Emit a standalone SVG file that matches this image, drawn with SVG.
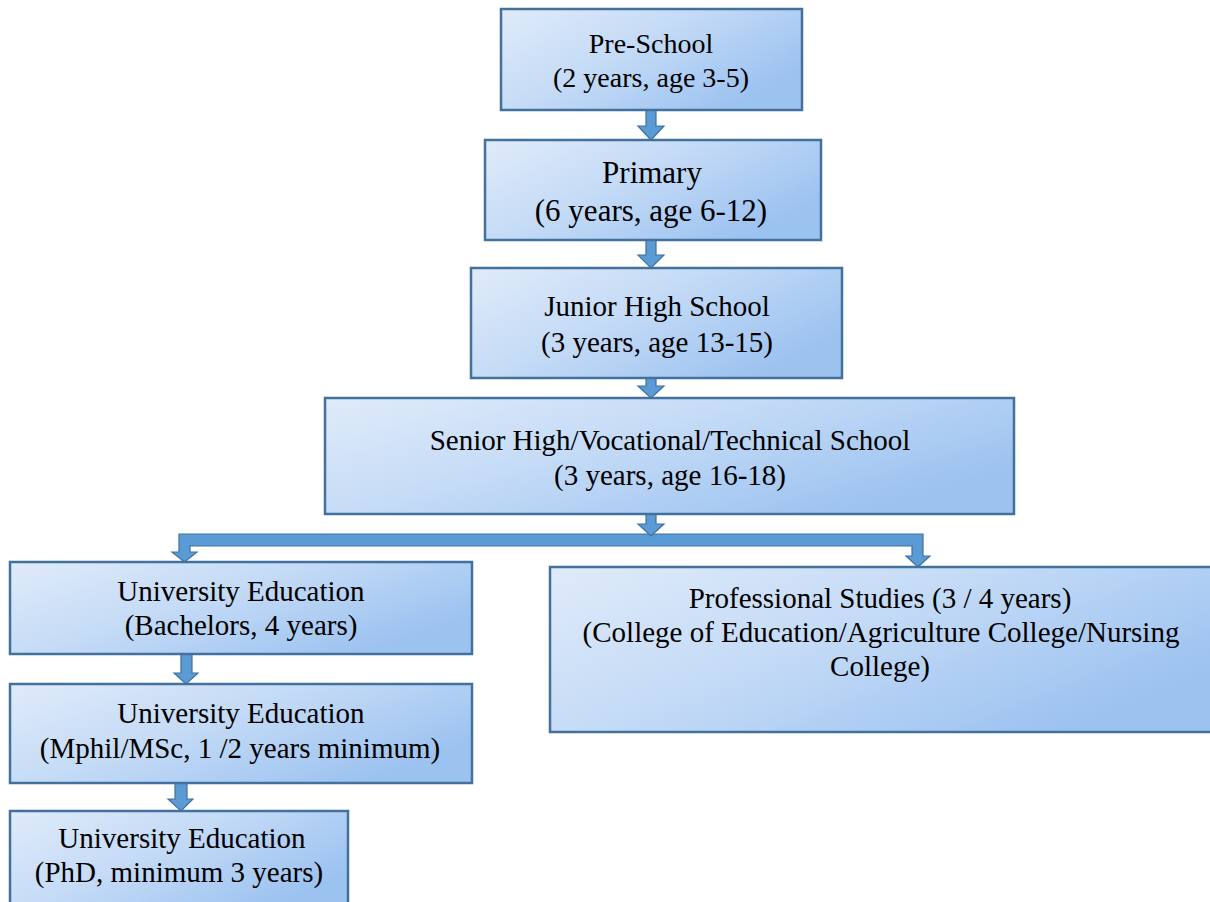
<svg xmlns="http://www.w3.org/2000/svg" width="1210" height="902" viewBox="0 0 1210 902">
<defs>
<linearGradient id="g" x1="0" y1="0" x2="1" y2="0.6">
<stop offset="0" stop-color="#e0ebfa"/>
<stop offset="0.5" stop-color="#c3daf6"/>
<stop offset="1" stop-color="#9cc2f0"/>
</linearGradient>
<style>
.box{fill:url(#g);stroke:#41719c;stroke-width:2.5}
.t{font-family:"Liberation Serif","Times New Roman",serif;font-size:29px;fill:#000;text-anchor:middle}
.arr{fill:#5b9bd5;stroke:#41719c;stroke-width:1.2;stroke-linejoin:miter}
</style>
</defs>
<rect width="1210" height="902" fill="#fff"/>
<g id="connectors">
<path class="arr" d="M646,110 H656 V126 H664 L651,140 L638,126 H646 Z"/>
<path class="arr" d="M646,240 H656 V255 H664 L651,268 L638,255 H646 Z"/>
<path class="arr" d="M646,378 H656 V386 H664 L651,398 L638,386 H646 Z"/>
<path class="arr" d="M179,534 H923 V556 H930 L918,567 L906,556 H912 V546 H190 V552 H197 L184.5,562 L172,552 H179 Z"/>
<path class="arr" d="M646,514 H656 V524 H664 L651,536 L638,524 H646 Z"/>
<path class="arr" d="M181,654 H192 V673 H198 L186,684 L174,673 H181 Z"/>
<path class="arr" d="M175,783 H187 V799 H193 L181,811 L168,799 H175 Z"/>
</g>
<g id="preschool">
<rect class="box" x="501" y="9" width="301" height="101"/>
<text class="t" x="651" y="53" style="font-size:28px">Pre-School</text>
<text class="t" x="651" y="87" style="font-size:28px">(2 years, age 3-5)</text>
</g>
<g id="primary">
<rect class="box" x="485" y="140" width="336" height="100"/>
<text class="t" x="652" y="183" style="font-size:31px">Primary</text>
<text class="t" x="651" y="221" style="font-size:31px">(6 years, age 6-12)</text>
</g>
<g id="jhs">
<rect class="box" x="471" y="268" width="371" height="110"/>
<text class="t" x="657" y="316">Junior High School</text>
<text class="t" x="657" y="352">(3 years, age 13-15)</text>
</g>
<g id="shs">
<rect class="box" x="325" y="398" width="689" height="116"/>
<text class="t" x="670" y="450">Senior High/Vocational/Technical School</text>
<text class="t" x="670" y="485">(3 years, age 16-18)</text>
</g>
<g id="univ1">
<rect class="box" x="10" y="562" width="462" height="92"/>
<text class="t" x="241" y="601">University Education</text>
<text class="t" x="241" y="635">(Bachelors, 4 years)</text>
</g>
<g id="univ2">
<rect class="box" x="10" y="684" width="462" height="99"/>
<text class="t" x="241" y="723">University Education</text>
<text class="t" x="240" y="758">(Mphil/MSc, 1 /2 years minimum)</text>
</g>
<g id="univ3">
<rect class="box" x="10" y="811" width="338" height="100"/>
<text class="t" x="182" y="848">University Education</text>
<text class="t" x="179" y="882">(PhD, minimum 3 years)</text>
</g>
<g id="professional">
<rect class="box" x="550" y="567" width="670" height="165"/>
<text class="t" x="880" y="608">Professional Studies (3 / 4 years)</text>
<text class="t" x="881" y="642">(College of Education/Agriculture College/Nursing</text>
<text class="t" x="880" y="676">College)</text>
</g>
</svg>
